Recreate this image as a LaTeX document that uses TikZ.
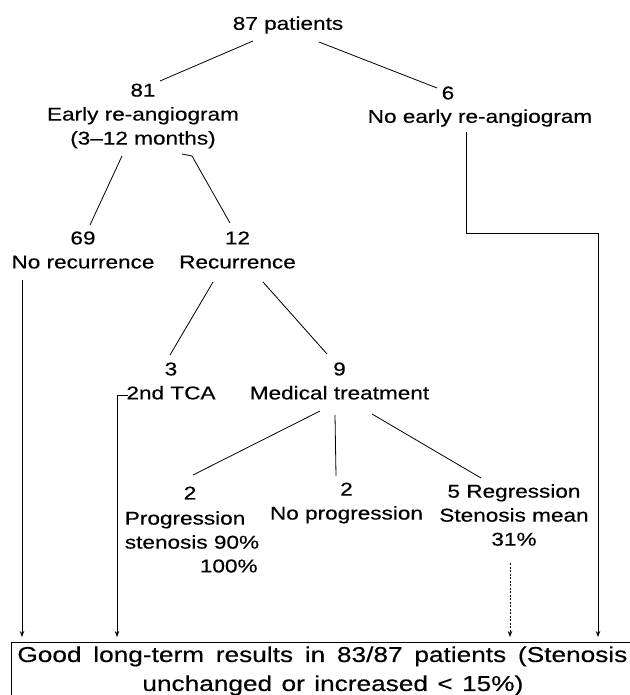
\documentclass[tikz,border=0pt]{standalone}
\usepackage{fontspec}
\setmainfont{Liberation Sans}[FakeStretch=1.22, FakeBold=0.4]
\usetikzlibrary{positioning, arrows.meta}

\begin{document}
\begin{tikzpicture}[
    x=1pt, y=-1pt,
    line width=0.8pt,
    lbl/.style={align=center, inner sep=0pt, font=\fontsize{18.5pt}{24pt}\selectfont},
    resbox/.style={draw, anchor=north west, text width=610pt, inner xsep=6pt, inner ysep=4pt, align=center, font=\fontsize{21.5pt}{29pt}\selectfont},
    arr/.style={-{Stealth[length=6pt, width=4.5pt]}, shorten >=5pt},
    dotarr/.style={arr, line width=0.6pt, dash pattern=on 2pt off 1.5pt}
]
\useasboundingbox (0,0) rectangle (629,695);

% ---------- Root ----------
\node[lbl] (total) at (288,25) {87 patients};

% ---------- Re-angiogram or not ----------
\node[lbl] (early) at (143,116) {81\\Early re-angiogram\\(3–12 months)};
\node[lbl] (noearlyn) at (448,93) {6};
\node[lbl] (noearly) at (480,118) {No early re-angiogram};

% ---------- Recurrence ----------
\node[lbl] (norec) at (83,250) {69\\No recurrence};
\node[lbl] (rec) at (237.5,250) {12\\Recurrence};

% ---------- Treatment ----------
\node[lbl] (tca) at (171,381) {3\\2nd TCA};
\node[lbl] (medical) at (339.5,381) {9\\Medical treatment};

% ---------- Outcome of medical treatment ----------
\node[lbl] (progn) at (190,493) {2};
\node[lbl, align=left] (prog) at (192,530) {Progression\\stenosis 90\%};
\node[lbl, anchor=east] (progpct) at (258,566) {100\%};
\node[lbl] (noprog) at (346.5,503) {2\\No progression};
\node[lbl] (regr) at (514,515) {5 Regression\\Stenosis mean\\31\%};

% ---------- Result box ----------
\node[resbox] (result) at (11,642) {\makebox[610pt][s]{Good\hfill long-term\hfill results\hfill in\hfill 83/87\hfill patients\hfill (Stenosis}\\\hspace*{21pt}\makebox[381pt][s]{unchanged\hfill or\hfill increased\hfill <\hfill 15\%)}\rule[-14pt]{0pt}{14pt}};

% ---------- Tree lines ----------
\draw ([shift={(-35,16)}]total.center) -- ([shift={(17,-35)}]early.center);
\draw ([shift={(31,17)}]total.center) -- ([shift={(-11,-5)}]noearlyn.center);
\draw ([shift={(-21,40)}]early.center) -- ([shift={(7,-25)}]norec.center);
\draw ([shift={(39,38)}]early.center) -- ([shift={(49,40)}]early.center) -- ([shift={(-7.5,-27)}]rec.center);
\draw ([shift={(-24.5,32)}]rec.center) -- ([shift={(-1,-26)}]tca.center);
\draw ([shift={(25.5,32)}]rec.center) -- ([shift={(-12.5,-27)}]medical.center);
\draw ([shift={(-19.5,30)}]medical.center) -- ([shift={(3,-18)}]progn.center);
\draw ([shift={(-4.5,34)}]medical.center) -- ([shift={(-10.5,-27)}]noprog.center);
\draw ([shift={(32.5,33)}]medical.center) -- ([shift={(-33,-37)}]regr.center);

% ---------- Arrows into the result ----------
\coordinate (norecout) at ([shift={(-61,30)}]norec.center);
\coordinate (tcaout) at ([shift={(-43,14)}]tca.center);
\coordinate (tcaturn) at (117,395);
\coordinate (noearlyout) at ([shift={(-14,14)}]noearly.center);
\coordinate (noturn) at (598,233);
\coordinate (regrout) at ([shift={(-4,48)}]regr.center);

\draw[arr] (norecout) -- (norecout |- result.north);
\draw[arr] (tcaout) -- (tcaturn) -- (tcaturn |- result.north);
\draw[arr] (noearlyout) |- (noturn) -- (noturn |- result.north);
\draw[dotarr] (regrout) -- (regrout |- result.north);

\end{tikzpicture}
\end{document}
